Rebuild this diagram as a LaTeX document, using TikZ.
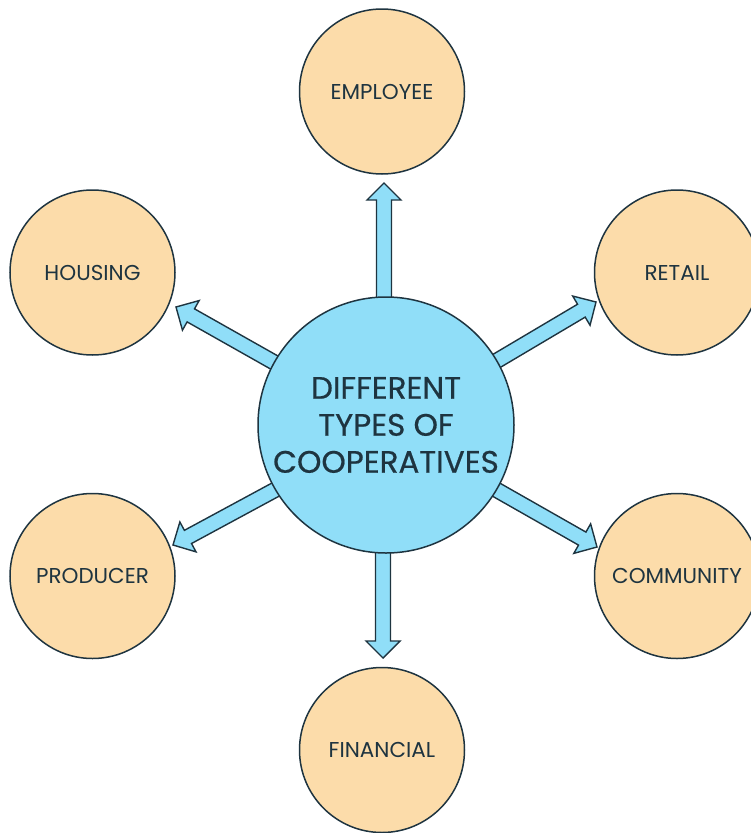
\documentclass[tikz,border=0pt]{standalone}
\usepackage{fontspec}
\setmainfont{Poppins}
\newfontfamily\titlefont[FakeBold=0.6]{Poppins}
\usetikzlibrary{calc,backgrounds}
\definecolor{peach}{HTML}{FCDCAA}
\definecolor{sky}{HTML}{90DEF8}
\definecolor{ink}{HTML}{1E3440}
\tikzset{
  x=1pt,y=-1pt,
  typecircle/.style={circle,draw=ink,line width=1.5pt,fill=peach,minimum size=165pt,inner sep=0pt,text=ink,font=\fontsize{21.5}{26}\selectfont},
  maincircle/.style={circle,draw=ink,line width=1.5pt,fill=sky,minimum size=256pt,inner sep=0pt,text=ink,align=center,font=\titlefont\fontsize{31}{37}\selectfont},
  blockarrow/.style={draw=ink,line width=1.4pt,fill=sky,line join=miter,
    to path={
      ($(\tikztostart)!7.5pt!90:(\tikztotarget)$) --
      ($($(\tikztotarget)!17pt!(\tikztostart)$)!7.5pt!90:(\tikztotarget)$) --
      ($($(\tikztotarget)!17pt!(\tikztostart)$)!17pt!90:(\tikztotarget)$) --
      (\tikztotarget) --
      ($($(\tikztotarget)!17pt!(\tikztostart)$)!17pt!-90:(\tikztotarget)$) --
      ($($(\tikztotarget)!17pt!(\tikztostart)$)!7.5pt!-90:(\tikztotarget)$) --
      ($(\tikztostart)!7.5pt!-90:(\tikztotarget)$)
    }}
}
\begin{document}
\begin{tikzpicture}
\useasboundingbox (0,0) rectangle (751,833);
\clip (0,0) rectangle (751,833);
\node[typecircle] (employee) at (382,91.5) {EMPLOYEE};
\node[typecircle] (housing) at (92.5,272.5) {HOUSING};
\node[typecircle] (retail) at (677,272.5) {RETAIL};
\node[typecircle] (producer) at (92.5,576) {PRODUCER};
\node[typecircle] (community) at (677,576) {COMMUNITY};
\node[typecircle] (financial) at (382,750) {FINANCIAL};
\node[maincircle] (main) at (386,425) {DIFFERENT\\TYPES OF\\COOPERATIVES};
\coordinate (a1s) at (384,310); \coordinate (a1e) at (384,183);
\coordinate (a2s) at (284,368); \coordinate (a2e) at (176,307);
\coordinate (a3s) at (488,366); \coordinate (a3e) at (596,302);
\coordinate (a4s) at (284,485); \coordinate (a4e) at (173,545);
\coordinate (a5s) at (488,485); \coordinate (a5e) at (597,547);
\coordinate (a6s) at (383,540); \coordinate (a6e) at (383,658);
\begin{pgfonlayer}{background}
\foreach \i in {1,...,6} \draw[blockarrow] (a\i s) to (a\i e);
\end{pgfonlayer}
\end{tikzpicture}
\end{document}
